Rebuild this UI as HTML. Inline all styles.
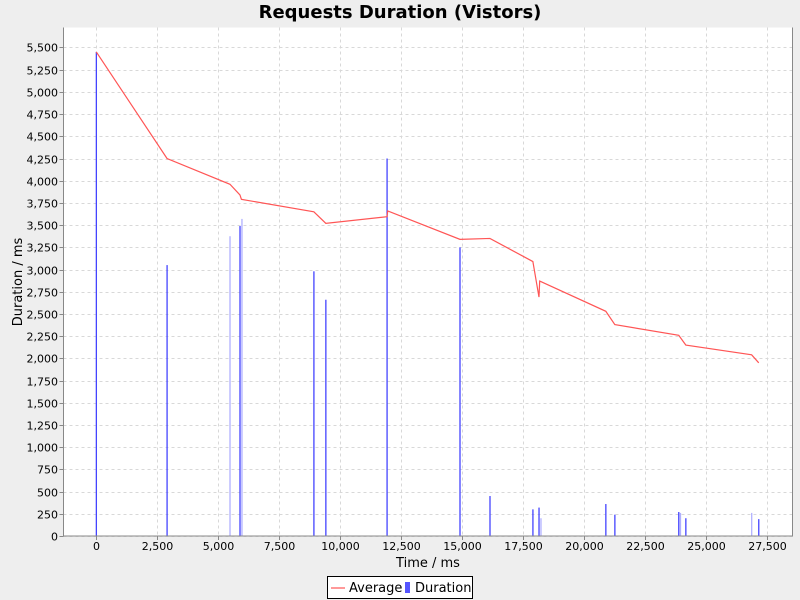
<!DOCTYPE html>
<html><head><meta charset="utf-8"><style>
body{margin:0;background:#eeeeee;font-family:"DejaVu Sans","Liberation Sans",sans-serif;}
svg{display:block}
</style></head><body>
<svg id="c" width="800" height="600" xmlns="http://www.w3.org/2000/svg">
<text x="400" y="18" text-anchor="middle" font-size="18" font-weight="bold" font-family="DejaVu Sans, sans-serif">Requests Duration (Vistors)</text>
<rect x="63.5" y="27.5" width="729" height="508.5" fill="#fff"/>
<g id="grid"></g><g id="bars"></g><g id="line"></g><g id="axes"></g>
<text x="428" y="567" text-anchor="middle" font-size="13">Time / ms</text>
<text transform="translate(22,282) rotate(-90)" text-anchor="middle" font-size="13">Duration / ms</text>
<g>
<rect x="327.5" y="576.5" width="145" height="22" fill="#fff" stroke="#000"/>
<line x1="331" y1="588" x2="345" y2="588" stroke="#ff5555" stroke-width="1.2"/>
<text x="349" y="592" font-size="13">Average</text>
<rect x="405" y="582" width="5" height="11" fill="#5555ff"/>
<text x="415" y="592" font-size="13">Duration</text>
</g>
</svg>
<script>
const barTimes=[0,2900,5480,5890,5970,8920,9410,11920,14910,16140,17900,18150,18230,20890,21260,23880,23950,24170,26870,27160];
const barValues=[5450,3050,3375,3490,3570,2980,2660,4250,3250,450,300,320,200,360,240,270,260,200,260,190];
const barLight=[0,0,1,0,1,0,0,0,0,0,0,0,1,0,0,0,1,0,1,0];
const avgTimes=[0,2900,5480,5890,5950,8920,9410,11920,11950,14910,16140,17900,18150,18180,20890,21260,23880,24170,26870,27160];
const avgValues=[5450,4250,3960,3840,3790,3650,3520,3595,3660,3340,3350,3090,2690,2870,2530,2380,2260,2150,2040,1950];
const xTicks=[0,2500,5000,7500,10000,12500,15000,17500,20000,22500,25000,27500];
const yTicks=[0,250,500,750,1000,1250,1500,1750,2000,2250,2500,2750,3000,3250,3500,3750,4000,4250,4500,4750,5000,5250,5500];
const X0=63.5,X1=792.5,Y0=536,Y1=27.5,XMIN=-1345,XMAX=28545,YMIN=0,YMAX=5725;
const sx=v=>X0+(v-XMIN)/(XMAX-XMIN)*(X1-X0);
const sy=v=>Y0-(v-YMIN)/(YMAX-YMIN)*(Y0-Y1);
const NS="http://www.w3.org/2000/svg";
function mk(p,t,a){const e=document.createElementNS(NS,t);for(const k in a)e.setAttribute(k,a[k]);document.getElementById(p).appendChild(e);return e;}
const fmt=v=>v.toLocaleString('en-US');
xTicks.forEach(v=>{const x=Math.floor(sx(v))+0.5;
 const g=mk('grid','line',{x1:x,x2:x,y1:Y1,y2:Y0,stroke:'#d8d8d8','stroke-dasharray':'3,3'});
 
 const t=mk('axes','line',{x1:x,x2:x,y1:Y0,y2:Y0+4,stroke:'#888'});
 
 const l=mk('axes','text',{x:x,y:550,'text-anchor':'middle','font-size':11});l.textContent=fmt(v);
 });
yTicks.forEach(v=>{const y=Math.round(sy(v))+0.5;
 const g=mk('grid','line',{x1:X0,x2:X1,y1:y,y2:y,stroke:'#d8d8d8','stroke-dasharray':'3,3'});
 
 const t=mk('axes','line',{x1:X0-4,x2:X0,y1:y,y2:y,stroke:'#888'});
 
 const l=mk('axes','text',{x:58,y:y+4,'text-anchor':'end','font-size':11});l.textContent=fmt(v);
 });
const ax=mk('axes','path',{d:`M${X0} ${Y1}V${Y0}H${X1}V${Y1}`,fill:'none',stroke:'#888'});

barTimes.forEach((t,i)=>{const x=sx(t);
 const b=mk('bars','rect',{x:x-0.6,y:sy(barValues[i]),width:1.3,height:Y0-sy(barValues[i]),fill:barLight[i]?'#b0b0ff':'#4444ff'});
 });
const pl=mk('line','polyline',{points:avgTimes.map((t,i)=>sx(t)+','+sy(avgValues[i])).join(' '),fill:'none',stroke:'#ff5555','stroke-width':1.2});

</script>
</body></html>
